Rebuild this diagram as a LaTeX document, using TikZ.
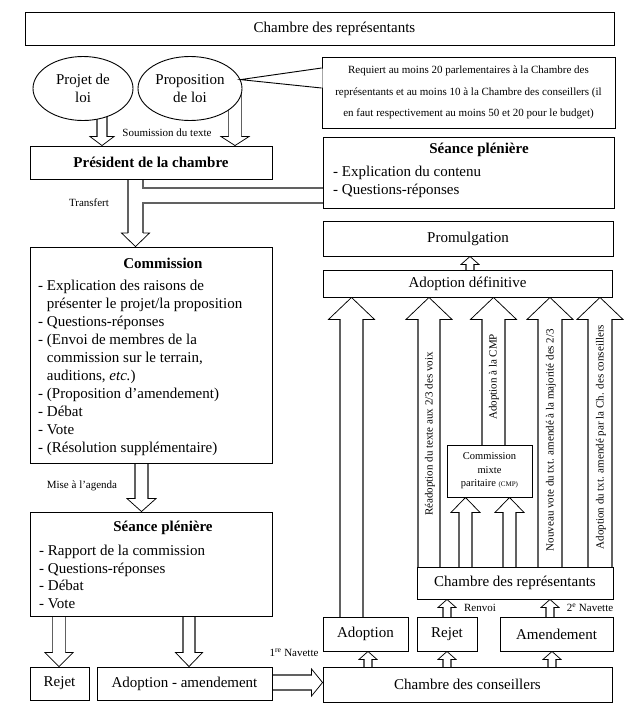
\documentclass[tikz,border=0pt]{standalone}
\usepackage{fontspec}
\setmainfont{Liberation Serif}
\usetikzlibrary{shapes.geometric,calc}
\pgfdeclarelayer{back}
\pgfdeclarelayer{bg}
\pgfsetlayers{back,bg,main}
\tikzset{
  base/.style={font=\fontsize{15}{18}\selectfont, inner sep=0pt},
  btitle/.style={inner sep=0pt, font=\bfseries\fontsize{15}{18}\selectfont},
  box/.style={base, draw=black, line width=0.9pt, fill=white, rectangle},
  oval/.style={base, draw=black, line width=0.9pt, fill=white, ellipse, align=center},
  small/.style={inner sep=0pt, font=\fontsize{11}{13}\selectfont},
  vtext/.style={small, rotate=90},
  shaft/.style={draw=black!62, line width=1.8pt},
  head/.style={draw=black, line width=0.75pt, line join=miter},
}
% #1 x, #2 bottom anchor, #3 top anchor, #4 half shaft, #5 half head, #6 head length
\newcommand\UpArr[6]{%
  \begin{pgfonlayer}{bg}
  \fill[white] let \p1=(#2), \p2=(#3) in
    ({#1pt-#4pt},\y1) -- ({#1pt-#4pt},{\y2-#6pt}) -- ({#1pt-#5pt},{\y2-#6pt}) -- ({#1pt},\y2)
    -- ({#1pt+#5pt},{\y2-#6pt}) -- ({#1pt+#4pt},{\y2-#6pt}) -- ({#1pt+#4pt},\y1) -- cycle;
  \draw[shaft] let \p1=(#2), \p2=(#3) in
    ({#1pt-#4pt},\y1) -- ({#1pt-#4pt},{\y2-#6pt})
    ({#1pt+#4pt},\y1) -- ({#1pt+#4pt},{\y2-#6pt});
  \draw[head] let \p1=(#2), \p2=(#3) in
    ({#1pt-#4pt},{\y2-#6pt}) -- ({#1pt-#5pt},{\y2-#6pt}) -- ({#1pt},\y2)
    -- ({#1pt+#5pt},{\y2-#6pt}) -- ({#1pt+#4pt},{\y2-#6pt});
  \end{pgfonlayer}}
% #1 x, #2 top anchor, #3 bottom anchor
\newcommand\DownArr[6]{%
  \begin{pgfonlayer}{bg}
  \fill[white] let \p1=(#2), \p2=(#3) in
    ({#1pt-#4pt},\y1) -- ({#1pt-#4pt},{\y2+#6pt}) -- ({#1pt-#5pt},{\y2+#6pt}) -- ({#1pt},\y2)
    -- ({#1pt+#5pt},{\y2+#6pt}) -- ({#1pt+#4pt},{\y2+#6pt}) -- ({#1pt+#4pt},\y1) -- cycle;
  \draw[shaft] let \p1=(#2), \p2=(#3) in
    ({#1pt-#4pt},\y1) -- ({#1pt-#4pt},{\y2+#6pt})
    ({#1pt+#4pt},\y1) -- ({#1pt+#4pt},{\y2+#6pt});
  \draw[head] let \p1=(#2), \p2=(#3) in
    ({#1pt-#4pt},{\y2+#6pt}) -- ({#1pt-#5pt},{\y2+#6pt}) -- ({#1pt},\y2)
    -- ({#1pt+#5pt},{\y2+#6pt}) -- ({#1pt+#4pt},{\y2+#6pt});
  \end{pgfonlayer}}
% #1 y (picture), #2 left anchor, #3 right anchor
\newcommand\RightArr[6]{%
  \begin{pgfonlayer}{bg}
  \fill[white] let \p1=(#2), \p2=(#3) in
    (\x1,{-#1pt+#4pt}) -- ({\x2-#6pt},{-#1pt+#4pt}) -- ({\x2-#6pt},{-#1pt+#5pt}) -- (\x2,{-#1pt})
    -- ({\x2-#6pt},{-#1pt-#5pt}) -- ({\x2-#6pt},{-#1pt-#4pt}) -- (\x1,{-#1pt-#4pt}) -- cycle;
  \draw[shaft] let \p1=(#2), \p2=(#3) in
    (\x1,{-#1pt+#4pt}) -- ({\x2-#6pt},{-#1pt+#4pt})
    (\x1,{-#1pt-#4pt}) -- ({\x2-#6pt},{-#1pt-#4pt});
  \draw[head] let \p1=(#2), \p2=(#3) in
    ({\x2-#6pt},{-#1pt+#4pt}) -- ({\x2-#6pt},{-#1pt+#5pt}) -- (\x2,{-#1pt})
    -- ({\x2-#6pt},{-#1pt-#5pt}) -- ({\x2-#6pt},{-#1pt-#4pt});
  \end{pgfonlayer}}

\begin{document}
\begin{tikzpicture}[x=1pt,y=-1pt]
\begin{pgfonlayer}{back}
\fill[white] (0,0) rectangle (643,718);
\end{pgfonlayer}
\useasboundingbox (0,0) rectangle (643,718);

% ---------- nodes ----------
\node[box, minimum width=589, minimum height=33] (title) at (319.5,28.5) {\hspace*{30pt}Chambre des représentants};
\node[oval, minimum width=100, minimum height=64] (projet) at (83,88.5) {Projet de\\loi};
\node[oval, minimum width=104, minimum height=64] (proposition) at (190,88.5) {Proposition\\de loi};
\node[box, minimum width=293, minimum height=71, align=center, font=\fontsize{11}{21.5}\selectfont] (callout) at (468.5,92.5)
  {Requiert au moins 20 parlementaires à la Chambre des\\représentants et au moins 10 à la Chambre des conseillers (il\\en faut respectivement au moins 50 et 20 pour le budget)};
\node[box, minimum width=242, minimum height=33, font=\bfseries\fontsize{15}{18}\selectfont] (president) at (151,162.5) {Président de la chambre};

\node[box, minimum width=291, minimum height=71] (seance1) at (468.5,172.5) {};
\node[btitle] (s1title) at (479,150) {Séance plénière};
\node[base, anchor=north west, align=left] (s1list) at (333,165.7) {- Explication du contenu\\- Questions-réponses};

\node[box, minimum width=242, minimum height=216] (commission) at (151,355) {};
\node[btitle] (ctitle) at (163,263) {Commission};
\node[base, anchor=north west, align=left] (clist) at (38,279.7) {%
- Explication des raisons de\\
\phantom{- }présenter le projet/la proposition\\
- Questions-réponses\\
- (Envoi de membres de la\\
\phantom{- }commission sur le terrain,\\
\phantom{- }auditions, \textit{etc.})\\
- (Proposition d’amendement)\\
- Débat\\
- Vote\\
- (Résolution supplémentaire)};

\node[box, minimum width=242, minimum height=104] (seance2) at (151,564) {};
\node[btitle] (s2title) at (163,528) {Séance plénière};
\node[base, anchor=north west, align=left, font=\fontsize{15}{17.7}\selectfont] (s2list) at (39,544.7) {- Rapport de la commission\\- Questions-réponses\\- Débat\\- Vote};

\node[box, minimum width=59, minimum height=33] (rejet1) at (59.5,683.5) {Rejet};
\node[box, minimum width=175, minimum height=33] (adoptam) at (184.5,683.5) {Adoption - amendement};
\node[box, minimum width=289, minimum height=35] (conseillers) at (467.5,684.5) {Chambre des conseillers};
\node[box, minimum width=85, minimum height=34] (adoption) at (365.5,634) {Adoption};
\node[box, minimum width=60, minimum height=34] (rejet2) at (447,634) {Rejet};
\node[box, minimum width=113, minimum height=34] (amendement) at (556.5,634) {Amendement};
\node[box, minimum width=196, minimum height=32] (chrep) at (515,583) {Chambre des représentants};
\node[box, minimum width=85, minimum height=52, align=center, font=\fontsize{10.5}{13.5}\selectfont] (cmp) at (489.5,471)
  {Commission\\mixte\\paritaire {\fontsize{7}{8}\selectfont (CMP)}};
\node[box, minimum width=289, minimum height=27] (adopdef) at (467.5,283.5) {Adoption définitive};
\node[box, minimum width=290, minimum height=35] (promul) at (468,238.5) {Promulgation};

% ---------- callout pointer ----------
\fill[white] (callout.west |- 0,68.5) -- (proposition.10) -- (callout.west |- 0,87.5) -- ([xshift=1pt]callout.west |- 0,87.5) -- ([xshift=1pt]callout.west |- 0,68.5) -- cycle;
\draw[line width=0.9pt] (callout.west |- 0,68) -- (proposition.10) -- (callout.west |- 0,88);

% ---------- arrows ----------
\DownArr{102}{projet.center}{president.north}{5}{12}{9}
\DownArr{235}{proposition.center}{president.north}{6.5}{14}{9}

\begin{pgfonlayer}{bg}
\fill[white] (128,0 |- president.south) -- (128,233) -- (121.5,233) -- (135.5,0 |- commission.north) -- (149.5,233) -- (143,233) -- (143,203) -- (seance1.west |- 0,203) -- (seance1.west |- 0,188) -- (143,188) -- (143,0 |- president.south) -- cycle;
\draw[shaft] (128,0 |- president.south) -- (128,233);
\draw[shaft] (143,0 |- president.south) -- (143,188) -- (seance1.west |- 0,188);
\draw[shaft] (seance1.west |- 0,203) -- (143,203) -- (143,233);
\draw[head] (128,233) -- (121.5,233) -- (135.5,0 |- commission.north) -- (149.5,233) -- (143,233);
\end{pgfonlayer}
\draw[white, line width=1.2pt] (seance1.west |- 0,189.5) -- (seance1.west |- 0,201.5);

\DownArr{141.5}{commission.south}{seance2.north}{6.5}{14.5}{13}
\DownArr{59}{seance2.south}{rejet1.north}{6.5}{14}{14}
\DownArr{189}{seance2.south}{adoptam.north}{6}{13.5}{14}
\RightArr{682.5}{adoptam.east}{conseillers.west}{7.5}{13.5}{11}
\UpArr{368}{conseillers.north}{adoption.south}{4}{9}{8}
\UpArr{447}{conseillers.north}{rejet2.south}{4}{9}{8}
\UpArr{552}{conseillers.north}{amendement.south}{4}{9}{8}
\UpArr{447}{rejet2.north}{chrep.south}{4}{9}{8}
\UpArr{550}{amendement.north}{chrep.south}{4}{9}{8}
\UpArr{470}{adopdef.north}{promul.south}{4}{9}{8}
\UpArr{351.5}{adoption.north}{adopdef.south}{11.5}{23}{22}
\UpArr{429}{chrep.north}{adopdef.south}{11}{23}{22}
\UpArr{493.5}{cmp.north}{adopdef.south}{11.5}{23}{22}
\UpArr{550}{chrep.north}{adopdef.south}{12}{23}{22}
\UpArr{600}{chrep.north}{adopdef.south}{12}{23}{22}
\UpArr{465.5}{chrep.north}{cmp.south}{6.5}{14.5}{15}
\UpArr{509.5}{chrep.north}{cmp.south}{6.5}{14.5}{15}

% ---------- labels ----------
\node[small] (lsoum) at (167,133) {Soumission du texte};
\node[small] (ltrans) at (89,203) {Transfert};
\node[small] (lagenda) at (82,486) {Mise à l’agenda};
\node[small] (lnav1) at (294,653) {1\textsuperscript{re} Navette};
\node[small] (lrenvoi) at (480,608) {Renvoi};
\node[small] (lnav2) at (590,608) {2\textsuperscript{e} Navette};

\node[vtext] (v1) at (430,434) {Réadoption du texte aux 2/3 des voix};
\node[vtext] (v2) at (494,377) {Adoption à la CMP};
\node[vtext] (v3) at (551,440) {Nouveau vote du txt. amendé à la majorité des 2/3};
\node[vtext] (v4) at (601,437) {Adoption du txt. amendé par la Ch. des conseillers};
\end{tikzpicture}
\end{document}
